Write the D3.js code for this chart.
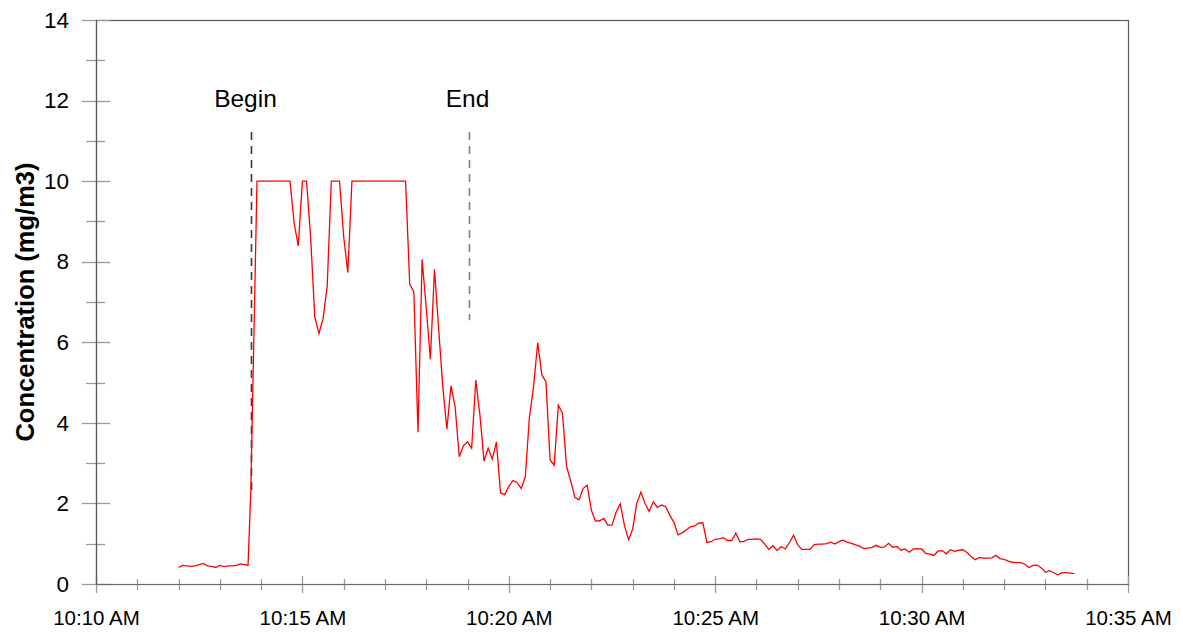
<!DOCTYPE html>
<html><head><meta charset="utf-8">
<script src="https://cdn.jsdelivr.net/npm/d3@7"></script>
<style>body{margin:0;background:#fff}svg{display:block}text{font-family:Arial,"Liberation Sans",sans-serif;fill:#000}</style>
</head><body>
<svg id="chart" width="1183" height="632"></svg>
<script>
// ---- data ----
const times = [
"10:12:00","10:12:06","10:12:12","10:12:18","10:12:24","10:12:30","10:12:36","10:12:42","10:12:48","10:12:54",
"10:13:00","10:13:06","10:13:12","10:13:18","10:13:24","10:13:30","10:13:36","10:13:41","10:13:45","10:13:54",
"10:14:00","10:14:06","10:14:12","10:14:18","10:14:24","10:14:30","10:14:36","10:14:42","10:14:48","10:14:54",
"10:15:00","10:15:06","10:15:12","10:15:18","10:15:24","10:15:30","10:15:36","10:15:42","10:15:48","10:15:54",
"10:16:00","10:16:06","10:16:12","10:16:18","10:16:24","10:16:30","10:16:36","10:16:42","10:16:48","10:16:54",
"10:17:00","10:17:06","10:17:12","10:17:18","10:17:24","10:17:30","10:17:36","10:17:42","10:17:48","10:17:54",
"10:18:00","10:18:06","10:18:12","10:18:18","10:18:24","10:18:30","10:18:36","10:18:42","10:18:48","10:18:54",
"10:19:00","10:19:06","10:19:12","10:19:18","10:19:24","10:19:30","10:19:36","10:19:42","10:19:48","10:19:54",
"10:20:00","10:20:06","10:20:12","10:20:18","10:20:24","10:20:30","10:20:36","10:20:42","10:20:48","10:20:54",
"10:21:00","10:21:06","10:21:12","10:21:18","10:21:24","10:21:30","10:21:36","10:21:42","10:21:48","10:21:54",
"10:22:00","10:22:06","10:22:12","10:22:18","10:22:24","10:22:30","10:22:36","10:22:42","10:22:48","10:22:54",
"10:23:00","10:23:06","10:23:12","10:23:18","10:23:24","10:23:30","10:23:36","10:23:42","10:23:48","10:23:54",
"10:24:00","10:24:06","10:24:12","10:24:18","10:24:24","10:24:30","10:24:36","10:24:42","10:24:48","10:24:54",
"10:25:00","10:25:06","10:25:12","10:25:18","10:25:24","10:25:30","10:25:36","10:25:42","10:25:48","10:25:54",
"10:26:00","10:26:06","10:26:12","10:26:18","10:26:24","10:26:30","10:26:36","10:26:42","10:26:48","10:26:54",
"10:27:00","10:27:06","10:27:12","10:27:18","10:27:24","10:27:30","10:27:36","10:27:42","10:27:48","10:27:54",
"10:28:00","10:28:06","10:28:12","10:28:18","10:28:24","10:28:30","10:28:36","10:28:42","10:28:48","10:28:54",
"10:29:00","10:29:06","10:29:12","10:29:18","10:29:24","10:29:30","10:29:36","10:29:42","10:29:48","10:29:54",
"10:30:00","10:30:06","10:30:12","10:30:18","10:30:24","10:30:30","10:30:36","10:30:42","10:30:48","10:30:54",
"10:31:00","10:31:06","10:31:12","10:31:18","10:31:24","10:31:30","10:31:36","10:31:42","10:31:48","10:31:54",
"10:32:00","10:32:06","10:32:12","10:32:18","10:32:24","10:32:30","10:32:36","10:32:42","10:32:48","10:32:54",
"10:33:00","10:33:06","10:33:12","10:33:18","10:33:24","10:33:30","10:33:36","10:33:42"
];
const concentration = [
0.41,0.46,0.45,0.44,0.45,0.48,0.51,0.45,0.44,0.41,
0.46,0.43,0.45,0.45,0.46,0.50,0.48,0.46,2.30,10,
10,10,10,10,10,10,10,10,8.95,8.39,
10,10,8.60,6.63,6.22,6.58,7.38,10,10,10,
8.62,7.73,10,10,10,10,10,10,10,10,
10,10,10,10,10,10,7.44,7.25,3.77,8.06,
6.85,5.58,7.81,6.35,4.90,3.84,4.92,4.40,3.16,3.43,
3.53,3.37,5.06,4.20,3.05,3.37,3.10,3.53,2.26,2.22,
2.42,2.57,2.52,2.37,2.66,4.15,4.90,5.99,5.19,5.02,
3.08,2.95,4.44,4.24,2.91,2.56,2.15,2.09,2.37,2.45,
1.83,1.56,1.57,1.63,1.46,1.46,1.78,1.99,1.46,1.10,
1.36,2.00,2.28,2.00,1.80,2.04,1.90,1.96,1.92,1.71,
1.53,1.22,1.27,1.34,1.42,1.44,1.51,1.52,1.03,1.05,
1.11,1.12,1.15,1.08,1.08,1.26,1.05,1.06,1.11,1.11,
1.12,1.11,0.99,0.86,0.95,0.83,0.93,0.87,1.03,1.21,
0.97,0.86,0.86,0.86,0.98,0.99,0.99,1.00,1.04,0.99,
1.05,1.09,1.04,1.01,0.97,0.94,0.88,0.89,0.91,0.96,
0.91,0.92,1.01,0.91,0.93,0.84,0.87,0.79,0.87,0.88,
0.87,0.76,0.74,0.71,0.82,0.83,0.75,0.85,0.81,0.84,
0.85,0.78,0.68,0.60,0.66,0.64,0.64,0.65,0.71,0.63,
0.61,0.57,0.54,0.53,0.53,0.49,0.41,0.46,0.47,0.40,
0.29,0.33,0.28,0.23,0.28,0.28,0.27,0.26
];
const yTickValues = [0, 2, 4, 6, 8, 10, 12, 14];
const yMinorValues = [1, 3, 5, 7, 9, 11, 13];
const xTickLabels = ["10:10 AM", "10:15 AM", "10:20 AM", "10:25 AM", "10:30 AM", "10:35 AM"];
const xDomain = ["10:10:00", "10:35:00"];
const eventLabels = ["Begin", "End"];
const eventTimes = ["10:13:45", "10:19:02"];
const eventTop = [11.22, 11.22];
const eventBottom = [2.25, 6.55];
const yTitle = "Concentration (mg/m3)";

// ---- chart ----
const m = {left: 96, right: 1128, top: 20, bottom: 584};
const parse = d3.timeParse("%H:%M:%S");
const svg = d3.select("#chart");

const x = d3.scaleTime().domain(xDomain.map(parse)).range([m.left, m.right]);
const y = d3.scaleLinear().domain([0, 14]).range([m.bottom, m.top]);

const data = times.map((t, i) => ({t: parse(t), v: concentration[i]}));

// frame
svg.append("rect")
  .attr("x", m.left + 0.5).attr("y", m.top + 0.5)
  .attr("width", m.right - m.left).attr("height", m.bottom - m.top)
  .attr("fill", "none").attr("stroke", "#5a5a5a").attr("stroke-width", 1.2);

// y ticks
const tickCol = "#9a9a9a";
svg.append("g").selectAll("line").data(yTickValues).join("line")
  .attr("x1", m.left - 14).attr("x2", m.left + 14)
  .attr("y1", d => Math.round(y(d)) + 0.5).attr("y2", d => Math.round(y(d)) + 0.5)
  .attr("stroke", tickCol).attr("stroke-width", 1.3);
svg.append("g").selectAll("line").data(yMinorValues).join("line")
  .attr("x1", m.left - 10).attr("x2", m.left + 9)
  .attr("y1", d => Math.round(y(d)) + 0.5).attr("y2", d => Math.round(y(d)) + 0.5)
  .attr("stroke", tickCol).attr("stroke-width", 1.3);

// x ticks
const majorTimes = d3.timeMinute.every(5).range(x.domain()[0], new Date(+x.domain()[1] + 1));
const minorTimes = d3.timeMinute.range(x.domain()[0], new Date(+x.domain()[1] + 1)).filter(d => d.getMinutes() % 5 !== 0);
svg.append("g").selectAll("line").data(majorTimes).join("line")
  .attr("x1", d => Math.round(x(d)) + 0.5).attr("x2", d => Math.round(x(d)) + 0.5)
  .attr("y1", m.bottom - 8).attr("y2", m.bottom + 9)
  .attr("stroke", tickCol).attr("stroke-width", 1.3);
svg.append("g").selectAll("line").data(minorTimes).join("line")
  .attr("x1", d => Math.round(x(d)) + 0.5).attr("x2", d => Math.round(x(d)) + 0.5)
  .attr("y1", m.bottom - 5).attr("y2", m.bottom + 6)
  .attr("stroke", tickCol).attr("stroke-width", 1.3);

// axis lines on top of ticks
svg.append("line").attr("x1", m.left + 0.5).attr("x2", m.left + 0.5).attr("y1", m.top).attr("y2", m.bottom + 0.5)
  .attr("stroke", "#5a5a5a").attr("stroke-width", 1.2);
svg.append("line").attr("x1", m.left).attr("x2", m.right + 1).attr("y1", m.bottom + 0.5).attr("y2", m.bottom + 0.5)
  .attr("stroke", "#6a6a6a").attr("stroke-width", 1.2);

// tick labels via d3 axes
const yAxis = d3.axisLeft(y).tickValues(yTickValues).tickSize(0).tickPadding(27).tickFormat(d3.format("d"));
const gy = svg.append("g").attr("transform", `translate(${m.left},0)`).call(yAxis);
gy.select(".domain").remove();
gy.selectAll("text").attr("font-size", 22.5).attr("font-family", "Arial, 'Liberation Sans', sans-serif").attr("fill", "#000");

const xAxis = d3.axisBottom(x).tickValues(majorTimes).tickSize(0).tickFormat((d, i) => xTickLabels[i]);
const gx = svg.append("g").attr("transform", `translate(0,${m.bottom})`).call(xAxis);
gx.select(".domain").remove();
gx.selectAll("text").attr("y", 41).attr("dy", 0).attr("font-size", 20.5)
  .attr("font-family", "Arial, 'Liberation Sans', sans-serif").attr("fill", "#000");

// y title
svg.append("text")
  .attr("transform", `translate(34,${(m.top + m.bottom) / 2}) rotate(-90)`)
  .attr("text-anchor", "middle").attr("font-weight", "bold").attr("font-size", 25.5)
  .text(yTitle);

// event markers
const evCols = ["#3a3a3a", "#808080"];
eventLabels.forEach((lab, i) => {
  const ex = Math.round(x(parse(eventTimes[i]))) + 0.5;
  svg.append("line").attr("x1", ex).attr("x2", ex)
    .attr("y1", y(eventTop[i])).attr("y2", y(eventBottom[i]))
    .attr("stroke", evCols[i]).attr("stroke-width", 1.6).attr("stroke-dasharray", "8,6");
  svg.append("text").attr("x", ex - (i === 0 ? 6 : 2)).attr("y", 107)
    .attr("text-anchor", "middle").attr("font-size", 24.5).text(lab);
});

// data line
const line = d3.line().x(d => x(d.t)).y(d => y(d.v));
svg.append("path").datum(data).attr("d", line)
  .attr("fill", "none").attr("stroke", "#ff0000").attr("stroke-width", 1.3)
  .attr("stroke-linejoin", "miter");
</script>
</body></html>
